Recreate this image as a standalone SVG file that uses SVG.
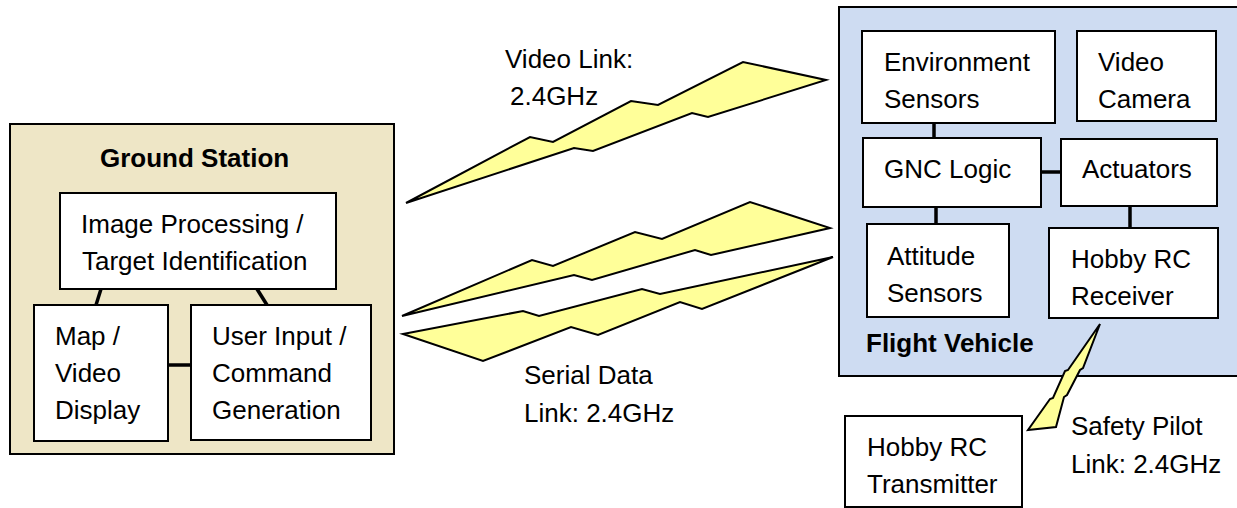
<svg xmlns="http://www.w3.org/2000/svg" width="1237" height="508" viewBox="0 0 1237 508">
<style>
text{font-family:"Liberation Sans",Arial,sans-serif;font-size:26px;fill:#000}
.b{font-weight:bold}
.box{fill:#fff;stroke:#000;stroke-width:2}
.gs{fill:#EEE6C6;stroke:#000;stroke-width:2}
.fv{fill:#CEDCF2;stroke:#000;stroke-width:2}
.bolt{fill:#FFFF99;stroke:#000;stroke-width:2;stroke-linejoin:miter}
.ln{stroke:#000;stroke-width:3.5;fill:none}
</style>
<rect width="1237" height="508" fill="#fff"/>
<g id="ground-station">
<rect class="gs" x="10" y="124" width="384" height="330"/>
<text class="b" x="100" y="167">Ground Station</text>
</g>
<g id="flight-vehicle">
<rect class="fv" x="839" y="7" width="405" height="369"/>
<text class="b" x="866" y="352">Flight Vehicle</text>
</g>
<g id="connectors">
<line class="ln" x1="101" y1="289" x2="96" y2="305"/>
<line class="ln" x1="257" y1="289" x2="267" y2="305"/>
<line class="ln" x1="168" y1="365" x2="191" y2="365"/>
<line class="ln" x1="934" y1="123" x2="934" y2="138"/>
<line class="ln" x1="936" y1="207" x2="936" y2="224"/>
<line class="ln" x1="1041" y1="172" x2="1061" y2="172"/>
<line class="ln" x1="1130" y1="206" x2="1130" y2="228"/>
</g>
<g id="video-link">
<polygon class="bolt" points="406,203 530,137 553,142 631,101 658,105 743,62 826,80 708,117 692,113 593,151 574,148"/>
<text x="505" y="68">Video Link:</text>
<text x="510" y="105">2.4GHz</text>
</g>
<g id="serial-link">
<polygon class="bolt" points="402,316 532,260 553,266 635,232 662,239 750,202 830,228 711,255 695,250 592,280 574,275"/>
<polygon class="bolt" points="403,334 523,311 539,316 642,289 660,294 833,257 702,309 680,302 598,335 571,327 483,361"/>
<text x="524" y="384">Serial Data</text>
<text x="524" y="422">Link: 2.4GHz</text>
</g>
<g id="safety-link">
<polygon class="bolt" points="1100,324 1083,368 1080,370 1067,395 1064,397 1056,427 1028,430 1050,399 1053,398 1065,371 1068,370"/>
<text x="1071" y="435">Safety Pilot</text>
<text x="1071" y="473">Link: 2.4GHz</text>
</g>
<g id="image-processing">
<rect class="box" x="60" y="193" width="276" height="96"/>
<text x="81" y="233">Image Processing /</text>
<text x="82" y="270">Target Identification</text>
</g>
<g id="map-display">
<rect class="box" x="34" y="305" width="134" height="136"/>
<text x="55" y="345">Map /</text>
<text x="55" y="382">Video</text>
<text x="55" y="419">Display</text>
</g>
<g id="user-input">
<rect class="box" x="191" y="305" width="180" height="135"/>
<text x="212" y="345">User Input /</text>
<text x="212" y="382">Command</text>
<text x="212" y="419">Generation</text>
</g>
<g id="environment-sensors">
<rect class="box" x="862" y="31" width="193" height="92"/>
<text x="884" y="71">Environment</text>
<text x="884" y="108">Sensors</text>
</g>
<g id="video-camera">
<rect class="box" x="1077" y="31" width="139" height="90"/>
<text x="1098" y="71">Video</text>
<text x="1098" y="108">Camera</text>
</g>
<g id="gnc-logic">
<rect class="box" x="863" y="138" width="178" height="69"/>
<text x="884" y="178">GNC Logic</text>
</g>
<g id="actuators">
<rect class="box" x="1061" y="139" width="156" height="67"/>
<text x="1082" y="178">Actuators</text>
</g>
<g id="attitude-sensors">
<rect class="box" x="867" y="224" width="142" height="93"/>
<text x="887" y="265">Attitude</text>
<text x="887" y="302">Sensors</text>
</g>
<g id="rc-receiver">
<rect class="box" x="1049" y="228" width="169" height="90"/>
<text x="1071" y="268">Hobby RC</text>
<text x="1071" y="305">Receiver</text>
</g>
<g id="rc-transmitter">
<rect class="box" x="845" y="416" width="177" height="91"/>
<text x="867" y="456">Hobby RC</text>
<text x="867" y="493">Transmitter</text>
</g>
</svg>
